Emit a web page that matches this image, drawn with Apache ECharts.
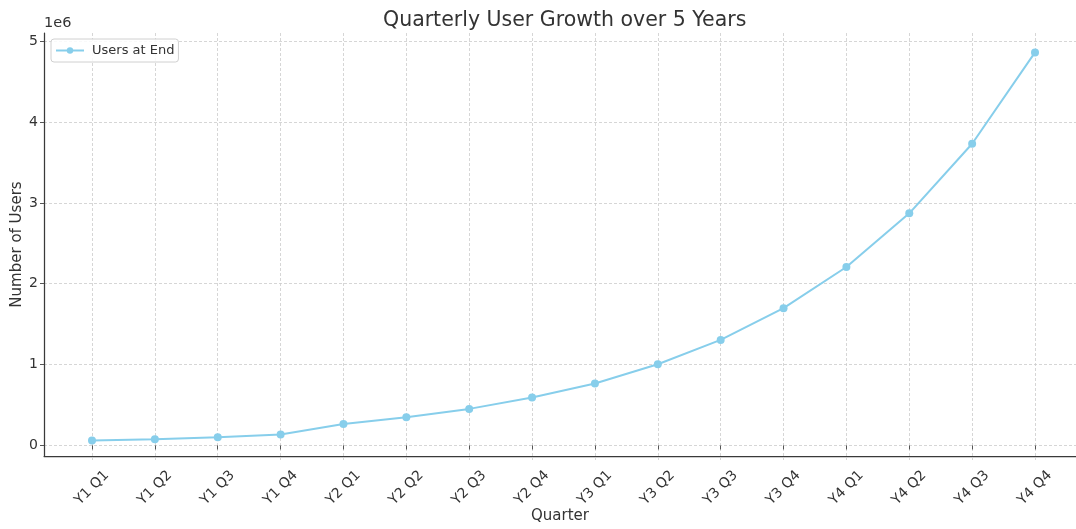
<!DOCTYPE html>
<html>
<head>
<meta charset="utf-8">
<script src="https://cdn.jsdelivr.net/npm/echarts@6/dist/echarts.min.js"></script>
<style>
html,body{margin:0;padding:0;background:#fff;}
#chart{width:1076px;height:529px;}
</style>
</head>
<body>
<div id="chart"></div>
<script>
const categories = ['Y1 Q1','Y1 Q2','Y1 Q3','Y1 Q4','Y2 Q1','Y2 Q2','Y2 Q3','Y2 Q4','Y3 Q1','Y3 Q2','Y3 Q3','Y3 Q4','Y4 Q1','Y4 Q2','Y4 Q3','Y4 Q4'];
const usersAtEnd = [62000, 78000, 103000, 136000, 267000, 350000, 453000, 594000, 767000, 1006000, 1307000, 1700000, 2210000, 2875000, 3737000, 4868000];
const yTickMin = 0;
const yTickMax = 5000000;
const yTickStep = 1000000;

const FONT = 'DejaVu Sans';
const TXT = '#333';
const GRIDLINE = {color: '#cbcbcb', width: 0.8, type: [3, 2]};
const chart = echarts.init(document.getElementById('chart'), null, {renderer: 'canvas'});

chart.setOption({
  backgroundColor: '#fff',
  animation: false,
  title: [
    {text: 'Quarterly User Growth over 5 Years', left: 378, top: 5,
     textStyle: {fontFamily: FONT, fontSize: 20.5, fontWeight: 'normal', color: TXT}},
    {text: '1e6', left: 39, top: 11,
     textStyle: {fontFamily: FONT, fontSize: 14.5, fontWeight: 'normal', color: TXT}}
  ],
  legend: {
    left: 51, top: 39, orient: 'vertical',
    padding: [5, 4, 5, 4],
    itemWidth: 28, itemHeight: 8, itemGap: 4,
    borderColor: '#d0d0d0', borderWidth: 1, borderRadius: 3,
    backgroundColor: 'rgba(255,255,255,0.85)',
    textStyle: {fontFamily: FONT, fontSize: 13, color: TXT, padding: [0, 0, 0, 3]},
    data: ['Users at End']
  },
  grid: [
    {left: 44, right: 0, top: 41.3, bottom: 83.7},
    {left: 92, right: 41, top: 33, bottom: 69},
    {left: 44, right: 0, top: 33, bottom: 69}
  ],
  xAxis: [
    {gridIndex: 0, type: 'value', show: false, min: 0, max: 1},
    {
      gridIndex: 1, type: 'category', data: categories, boundaryGap: false,
      axisLine: {show: false},
      axisTick: {show: true, length: 4, lineStyle: {color: '#555'}},
      axisLabel: {
        rotate: 45, align: 'center', verticalAlign: 'middle', margin: 28,
        fontFamily: FONT, fontSize: 14, color: TXT, interval: 0
      },
      splitLine: {show: true, interval: 0, lineStyle: GRIDLINE}
    },
    {
      gridIndex: 2, type: 'value', min: 0, max: 1,
      name: 'Quarter', nameLocation: 'middle', nameGap: 53,
      nameTextStyle: {fontFamily: FONT, fontSize: 15, color: TXT},
      axisLine: {show: true, onZero: false, lineStyle: {color: '#3a3a3a', width: 1.25}},
      axisTick: {show: false}, axisLabel: {show: false}, splitLine: {show: false}
    }
  ],
  yAxis: [
    {
      gridIndex: 0, type: 'value', min: yTickMin, max: yTickMax, interval: yTickStep,
      axisLine: {show: false},
      axisTick: {show: true, length: 4, lineStyle: {color: '#555'}},
      axisLabel: {
        margin: 6, fontFamily: FONT, fontSize: 14, color: TXT,
        formatter: v => String(v / yTickStep)
      },
      splitLine: {show: true, lineStyle: GRIDLINE}
    },
    {gridIndex: 1, type: 'value', show: false, min: -180000, max: 5108000},
    {
      gridIndex: 2, type: 'value', min: 0, max: 1,
      name: 'Number of Users', nameLocation: 'middle', nameGap: 19,
      nameTextStyle: {fontFamily: FONT, fontSize: 15, color: TXT},
      axisLine: {show: true, onZero: false, lineStyle: {color: '#3a3a3a', width: 1.25}},
      axisTick: {show: false}, axisLabel: {show: false}, splitLine: {show: false}
    }
  ],
  series: [{
    name: 'Users at End', type: 'line', xAxisIndex: 1, yAxisIndex: 1,
    data: usersAtEnd,
    color: '#87CEEB',
    lineStyle: {width: 2, color: '#87CEEB'},
    itemStyle: {color: '#87CEEB'},
    symbol: 'circle', symbolSize: 8, showSymbol: true, z: 5
  }]
});
</script>
</body>
</html>
